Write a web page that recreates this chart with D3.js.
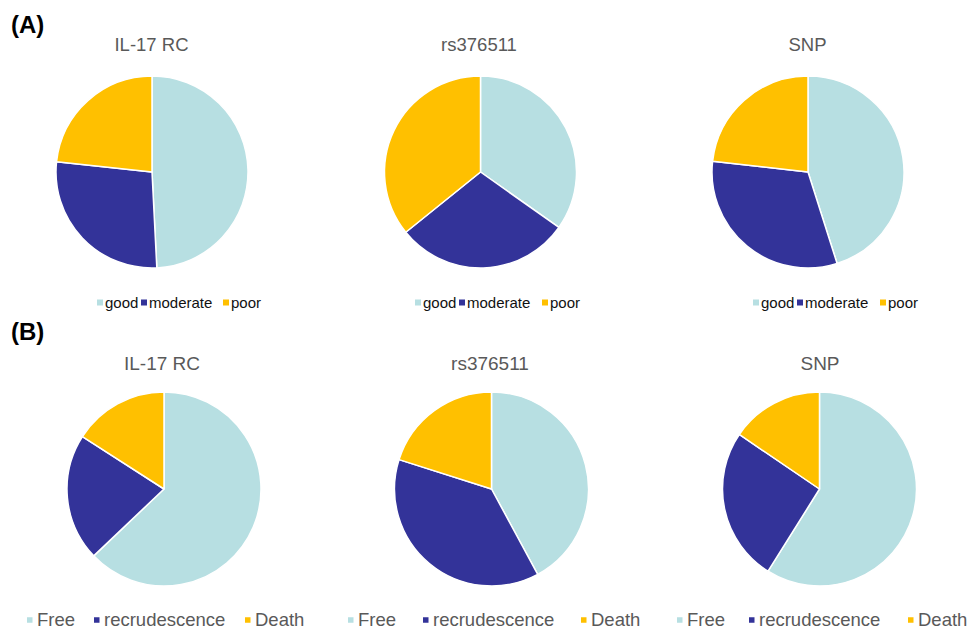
<!DOCTYPE html>
<html><head><meta charset="utf-8">
<script src="https://cdn.jsdelivr.net/npm/d3@7"></script>
<style>body{margin:0;background:#fff}svg{display:block}text{font-family:"Liberation Sans",Arial,sans-serif}</style>
</head><body>
<script>
// ---- data ----
const chartTitles = ["IL-17 RC", "rs376511", "SNP"];
const categoriesA = ["good", "moderate", "poor"];
const categoriesB = ["Free", "recrudescence", "Death"];
const valuesA_IL17RC = [49.2, 27.5, 23.3];
const valuesA_rs376511 = [34.8, 29.4, 35.8];
const valuesA_SNP = [45.1, 31.7, 23.2];
const valuesB_IL17RC = [62.9, 21.2, 15.9];
const valuesB_rs376511 = [42.1, 37.8, 20.1];
const valuesB_SNP = [58.9, 25.6, 15.5];
const sliceColors = ["#b7dfe2", "#333399", "#ffc000"];

// ---- layout ----
const W = 973, H = 629;
const svg = d3.select("body").append("svg").attr("width", W).attr("height", H);

const panels = [
  {label: "(A)", labelY: 33, cats: categoriesA, series: [valuesA_IL17RC, valuesA_rs376511, valuesA_SNP],
   cx: [152, 480.5, 808], cy: 172, r: 96, titleX: [151.5, 479, 807.5], titleY: 51, titleSize: 18.5,
   legStart: [97, 415, 753], legOffsets: [[0, 44, 126], [0, 44, 127], [0, 44, 127]], legY: 302.5,
   legSize: 15, legColor: "#111", sq: 6, textGap: 8},
  {label: "(B)", labelY: 340, cats: categoriesB, series: [valuesB_IL17RC, valuesB_rs376511, valuesB_SNP],
   cx: [164, 491.5, 819.5], cy: 489, r: 97, titleX: [162, 490, 820], titleY: 370, titleSize: 19,
   legStart: [27, 348, 677], legOffsets: [[0, 67, 218], [0, 75, 233], [0, 72, 231]], legY: 620,
   legSize: 18.5, legColor: "#595959", sq: 5.5, textGap: 10}
];

const color = d3.scaleOrdinal().range(sliceColors);
const pie = d3.pie().sort(null).value(d => d.v);

panels.forEach(p => {
  svg.append("text").attr("x", 11).attr("y", p.labelY).attr("font-size", 24)
    .attr("font-weight", "bold").attr("fill", "#000").text(p.label);
  color.domain(p.cats);
  p.series.forEach((vals, i) => {
    const data = p.cats.map((c, k) => ({c, v: vals[k]}));
    const arc = d3.arc().innerRadius(0).outerRadius(p.r);
    const g = svg.append("g").attr("transform", `translate(${p.cx[i]},${p.cy})`);
    g.selectAll("path").data(pie(data)).join("path")
      .attr("d", arc).attr("fill", d => color(d.data.c))
      .attr("stroke", "#fff").attr("stroke-width", 1.5).attr("stroke-linejoin", "round");
    svg.append("text").attr("x", p.titleX[i]).attr("y", p.titleY).attr("text-anchor", "middle")
      .attr("font-size", p.titleSize).attr("fill", "#595959").text(chartTitles[i]);
    const leg = svg.append("g").attr("transform", `translate(${p.legStart[i]},${p.legY})`);
    const items = leg.selectAll("g").data(p.cats).join("g")
      .attr("transform", (d, k) => `translate(${p.legOffsets[i][k]},0)`);
    items.append("rect").attr("x", 0).attr("y", -p.sq / 2).attr("width", p.sq).attr("height", p.sq)
      .attr("fill", d => color(d));
    items.append("text").attr("x", p.textGap).attr("y", 0).attr("dy", "0.35em")
      .attr("font-size", p.legSize).attr("fill", p.legColor).text(d => d);
  });
});
</script>
</body></html>
